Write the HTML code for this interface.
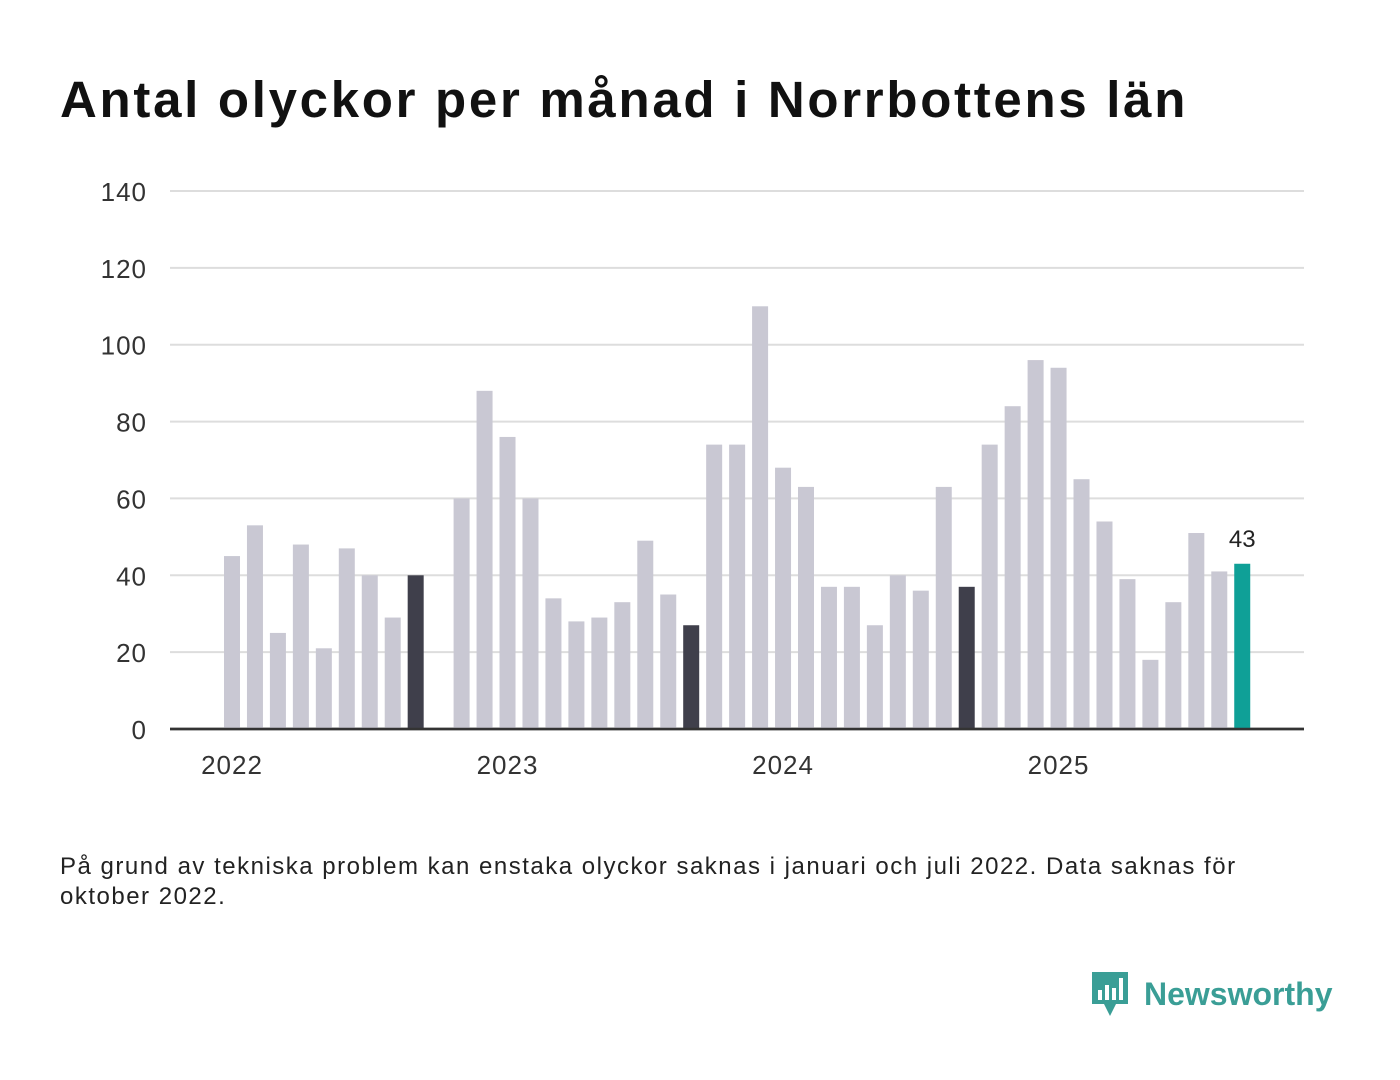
<!DOCTYPE html>
<html><head><meta charset="utf-8"><style>
body{margin:0;background:#fff;width:1400px;height:1080px;overflow:hidden;font-family:"Liberation Sans","DejaVu Sans",sans-serif;}
h1{position:absolute;left:60px;top:70px;margin:0;font-size:51px;font-weight:bold;color:#111;letter-spacing:2.7px}
.note{position:absolute;left:60px;top:852px;font-size:24px;color:#222;line-height:30px;width:1225px;letter-spacing:1.5px}
.logo{position:absolute;left:1090px;top:970px;display:flex;align-items:center;gap:14px;color:#3a9e96;font-size:32px;font-weight:bold}
</style></head><body>
<h1>Antal olyckor per månad i Norrbottens län</h1>
<svg id="chart" width="1400" height="820" style="position:absolute;left:0;top:0"></svg>
<div class="note">På grund av tekniska problem kan enstaka olyckor saknas i januari och juli 2022. Data saknas för oktober 2022.</div>
<div class="logo">
<svg width="40" height="48" viewBox="0 0 40 48"><path d="M2 2h36v32H26l-6 12-6-12H2z" fill="#3a9e96"/><rect x="8" y="20" width="4" height="10" fill="#fff"/><rect x="15" y="15" width="4" height="15" fill="#fff"/><rect x="22" y="18" width="4" height="12" fill="#fff"/><rect x="29" y="8" width="4" height="22" fill="#fff"/></svg>
<span>Newsworthy</span></div>
<script>
const values=[45,53,25,48,21,47,40,29,40,null,60,88,76,60,34,28,29,33,49,35,27,74,74,110,68,63,37,37,27,40,36,63,37,74,84,96,94,65,54,39,18,33,51,41,43];
const yTicks=[0,20,40,60,80,100,120,140];
const yearLabels=["2022","2023","2024","2025"];
const svg=document.getElementById('chart');
const NS='http://www.w3.org/2000/svg';
const x=i=>232+i*22.96;
const y=v=>729-v*(538/140);
function mk(t,a){const e=document.createElementNS(NS,t);for(const k in a)e.setAttribute(k,a[k]);svg.appendChild(e);return e;}
yTicks.forEach(t=>{
 const g=mk('line',{x1:170,x2:1304,y1:y(t),y2:y(t),stroke:t===0?'#333':'#ddd','stroke-width':t===0?2.5:2});
 
 
 const l=mk('text',{x:147,y:y(t)+10,'text-anchor':'end','font-size':26,fill:'#333','letter-spacing':1});
 l.textContent=t;
 
 
});
values.forEach((v,i)=>{
 if(v===null)return;
 const last=i===values.length-1;
 const col=last?'#0fa097':(i%12===8?'#3f3f4b':'#c9c8d3');
 const r=mk('rect',{x:x(i)-8,y:y(v),width:16,height:y(0)-y(v),fill:col});
 
 
 if(last){const t=mk('text',{x:x(i),y:y(v)-17,'text-anchor':'middle','font-size':24,fill:'#222'});t.textContent=v;
 
 }
});
mk('line',{x1:170,x2:1304,y1:y(0),y2:y(0),stroke:'#333','stroke-width':2.5});
yearLabels.forEach((lab,k)=>{
 const t=mk('text',{x:x(k*12),y:774,'text-anchor':'middle','font-size':26,fill:'#333','letter-spacing':1});
 t.textContent=lab;
 
 
});
</script>
</body></html>
